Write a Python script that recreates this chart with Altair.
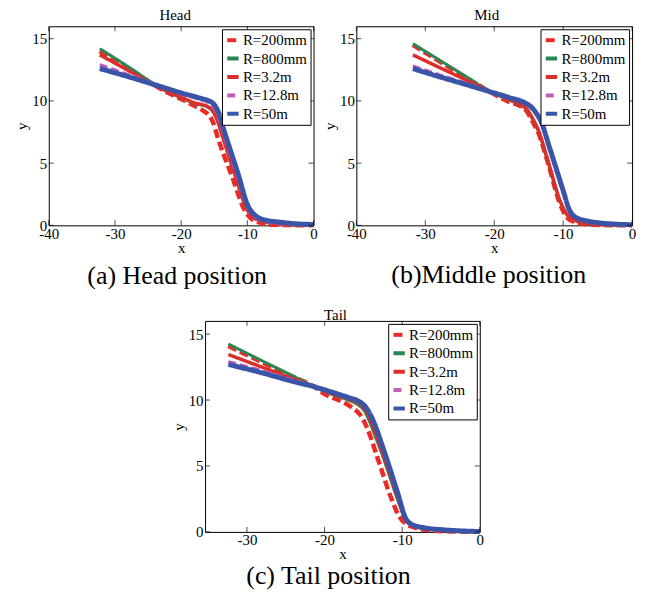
import altair as alt
import pandas as pd

SERIF = "Liberation Serif, Times New Roman, serif"

SERIES = ["R=200mm", "R=800mm", "R=3.2m", "R=12.8m", "R=50m"]
COLORS = ["#ec2a27", "#2a8652", "#dc2e2a", "#c25cb8", "#3a55a7"]
DASHES = [[9, 4], [1, 0], [1, 0], [8, 4], [1, 0]]
WIDTHS = [4.5, 3, 3.5, 3.5, 5]

TITLES = ["Head", "Mid", "Tail"]
CAPTIONS = ["(a) Head position", "(b)Middle position", "(c) Tail position"]
XTICKS_AB = [-40, -30, -20, -10, 0]
XTICKS_C = [-30, -20, -10, 0]
YTICKS = [0, 5, 10, 15]

# ---- Head ----
HEAD_200MM_X = [-32.3, -28, -24, -22, -20, -18, -16.5, -15.8, -15.2, -14.5, -12.3, -10.3, -9.2, -8, -6, 0]
HEAD_200MM_Y = [14.0, 12.6, 11.25, 10.65, 10.15, 9.6, 9.15, 8.85, 8.3, 7.1, 3.9, 1.1, 0.45, 0.2, 0.05, 0.0]
HEAD_800MM_X = [-32.3, -28, -24, -22, -20, -18, -16, -15.3, -14.6, -13.8, -11.8, -10, -9, -7.5, -5, 0]
HEAD_800MM_Y = [14.2, 12.75, 11.35, 10.75, 10.25, 9.8, 9.5, 9.2, 8.5, 7.2, 3.9, 1.2, 0.6, 0.3, 0.1, 0.02]
HEAD_3_2M_X = [-32.3, -28, -24, -22, -20, -18, -16, -15.3, -14.6, -13.8, -11.8, -10, -9, -7.5, -5, 0]
HEAD_3_2M_Y = [13.7, 12.45, 11.25, 10.75, 10.3, 9.85, 9.55, 9.25, 8.55, 7.25, 3.95, 1.25, 0.6, 0.3, 0.1, 0.02]
HEAD_12_8M_X = [-32.3, -28, -24, -20, -17, -15.8, -15.1, -14.4, -13.6, -11.6, -9.9, -8.9, -7.5, -5, 0]
HEAD_12_8M_Y = [12.9, 12.1, 11.35, 10.55, 10.1, 9.85, 9.5, 8.8, 7.4, 4.1, 1.35, 0.7, 0.35, 0.15, 0.04]
HEAD_50M_X = [-32.3, -28, -24, -20, -17, -15.8, -15.0, -14.3, -13.5, -11.5, -9.8, -8.8, -7.5, -5, -2.5, 0]
HEAD_50M_Y = [12.6, 11.95, 11.3, 10.65, 10.2, 10.0, 9.7, 9.0, 7.6, 4.3, 1.45, 0.8, 0.45, 0.25, 0.12, 0.07]

# ---- Mid ----
MID_200MM_X = [-31.8, -28, -24, -20.7, -18, -16, -15.2, -14.5, -13.5, -12.3, -10.3, -9.4, -8.5, -6.5, -4, 0]
MID_200MM_Y = [14.5, 13.2, 11.85, 10.75, 9.95, 9.5, 9.1, 8.4, 7.3, 5.2, 1.5, 0.6, 0.3, 0.08, 0.02, 0.0]
MID_800MM_X = [-31.8, -28, -24, -20.7, -18, -16, -15.2, -14.5, -13.6, -12.3, -10.2, -9.2, -8.3, -6.5, -4, 0]
MID_800MM_Y = [14.6, 13.3, 11.93, 10.8, 10.1, 9.6, 9.25, 8.6, 7.6, 5.3, 1.6, 0.7, 0.4, 0.15, 0.06, 0.02]
MID_3_2M_X = [-31.8, -28, -24, -20.7, -18, -16, -15.2, -14.5, -13.6, -12.3, -10.2, -9.2, -8.3, -6.5, -4, 0]
MID_3_2M_Y = [13.7, 12.7, 11.66, 10.8, 10.15, 9.65, 9.3, 8.65, 7.65, 5.35, 1.65, 0.7, 0.4, 0.15, 0.06, 0.02]
MID_12_8M_X = [-31.8, -28, -24, -20.7, -18, -15.4, -14.6, -14.0, -13.2, -12, -10, -9.1, -8.2, -6.5, -4, 0]
MID_12_8M_Y = [12.8, 12.1, 11.4, 10.8, 10.3, 9.8, 9.45, 9.0, 8.25, 6.2, 2.7, 1.2, 0.6, 0.3, 0.12, 0.04]
MID_50M_X = [-31.8, -28, -24, -20.7, -18, -15.4, -14.6, -14.0, -13.2, -12, -10, -9.1, -8.2, -6.5, -4.8, -2.5, 0]
MID_50M_Y = [12.6, 11.95, 11.3, 10.75, 10.3, 9.8, 9.5, 9.1, 8.35, 6.3, 2.8, 1.25, 0.65, 0.35, 0.2, 0.1, 0.05]

# ---- Tail ----
TAIL_200MM_X = [-32.4, -28, -24, -21.3, -20, -18, -16.4, -15.3, -14.6, -13, -11.5, -10.4, -9.5, -8.5, -6.5, -4, 0]
TAIL_200MM_Y = [14.1, 12.85, 11.75, 11.0, 10.45, 9.95, 9.4, 8.8, 8.0, 5.3, 2.7, 1.2, 0.6, 0.35, 0.12, 0.04, 0.01]
TAIL_800MM_X = [-32.4, -28, -24, -21.3, -19.4, -17, -15.6, -14.9, -14.3, -13.5, -12.6, -10.5, -9.6, -8.7, -7, -4.9, -2.5, 0]
TAIL_800MM_Y = [14.25, 12.96, 11.8, 11.0, 10.5, 10.0, 9.6, 9.2, 8.5, 7.3, 5.9, 2.3, 0.95, 0.5, 0.25, 0.12, 0.05, 0.02]
TAIL_3_2M_X = [-32.4, -28, -24, -21.3, -19.4, -17, -15.6, -14.9, -14.3, -13.5, -12.6, -10.5, -9.6, -8.7, -7, -4.9, -2.5, 0]
TAIL_3_2M_Y = [13.45, 12.48, 11.6, 11.0, 10.55, 10.1, 9.75, 9.4, 8.8, 7.6, 6.1, 2.5, 1.0, 0.5, 0.25, 0.12, 0.05, 0.02]
TAIL_12_8M_X = [-32.4, -28, -24, -21.3, -19.4, -17, -15.6, -14.9, -14.3, -13.5, -12.6, -10.5, -9.6, -8.7, -7, -4.9, -2.5, 0]
TAIL_12_8M_Y = [12.9, 12.2, 11.5, 11.05, 10.7, 10.25, 9.95, 9.65, 9.15, 8.1, 6.6, 2.8, 1.1, 0.55, 0.3, 0.17, 0.08, 0.03]
TAIL_50M_X = [-32.4, -28, -24, -21.3, -19.4, -17, -15.6, -14.9, -14.3, -13.5, -12.6, -10.5, -9.6, -8.7, -7, -4.9, -2.5, 0]
TAIL_50M_Y = [12.7, 12.05, 11.4, 11.0, 10.66, 10.2, 9.9, 9.6, 9.1, 8.1, 6.6, 2.8, 1.1, 0.55, 0.3, 0.17, 0.08, 0.03]

HEAD = [(HEAD_200MM_X, HEAD_200MM_Y), (HEAD_800MM_X, HEAD_800MM_Y), (HEAD_3_2M_X, HEAD_3_2M_Y),
        (HEAD_12_8M_X, HEAD_12_8M_Y), (HEAD_50M_X, HEAD_50M_Y)]
MID = [(MID_200MM_X, MID_200MM_Y), (MID_800MM_X, MID_800MM_Y), (MID_3_2M_X, MID_3_2M_Y),
       (MID_12_8M_X, MID_12_8M_Y), (MID_50M_X, MID_50M_Y)]
TAIL = [(TAIL_200MM_X, TAIL_200MM_Y), (TAIL_800MM_X, TAIL_800MM_Y), (TAIL_3_2M_X, TAIL_3_2M_Y),
        (TAIL_12_8M_X, TAIL_12_8M_Y), (TAIL_50M_X, TAIL_50M_Y)]


def panel(idx, pairs, xdomain, xticks, w, h, title_x, title_y, cap_x, cap_y):
    frames = [pd.DataFrame({"x": xs, "y": ys, "series": s}) for s, (xs, ys) in zip(SERIES, pairs)]
    df = pd.concat(frames, ignore_index=True)
    xscale = alt.Scale(domain=xdomain, nice=False, zero=False)
    yscale = alt.Scale(domain=[0, 16], nice=False)
    xaxis = alt.Axis(values=xticks, title="x", labelFont=SERIF, labelFontSize=15, titleFont=SERIF,
                     titleFontSize=15, titleFontWeight="normal", ticks=False, tickSize=0, domain=False,
                     grid=False, labelPadding=1, titlePadding=-1, labelFlush=False, labelOverlap=False,
                     labelColor="black", titleColor="black", labelExpr="'' + datum.value")
    yaxis = alt.Axis(values=YTICKS, title="y", labelFont=SERIF, labelFontSize=15, titleFont=SERIF,
                     titleFontSize=15, titleFontWeight="normal", ticks=False, tickSize=0, domain=False,
                     grid=False, labelPadding=2, titlePadding=2, labelFlush=False, labelOverlap=False,
                     labelColor="black", titleColor="black", labelExpr="'' + datum.value")
    color = alt.Color("series:N", scale=alt.Scale(domain=SERIES, range=COLORS), title=None)
    dash = alt.StrokeDash("series:N", scale=alt.Scale(domain=SERIES, range=DASHES), title=None)
    layers = []
    for s, sw in zip(SERIES, WIDTHS):
        layers.append(
            alt.Chart(df).transform_filter(alt.datum.series == s)
            .mark_line(strokeWidth=sw, interpolate="monotone")
            .encode(x=alt.X("x:Q", scale=xscale, axis=xaxis),
                    y=alt.Y("y:Q", scale=yscale, axis=yaxis),
                    color=color, strokeDash=dash)
        )
    xt = pd.DataFrame({"x": xticks})
    yt = pd.DataFrame({"y": YTICKS})
    for yv in [h - 2.5, 2.5]:
        layers.append(alt.Chart(xt).mark_tick(color="black", size=5, thickness=1, orient="vertical")
                      .encode(x=alt.X("x:Q", scale=xscale, axis=xaxis), y=alt.value(yv)))
    for xv in [2.5, w - 2.5]:
        layers.append(alt.Chart(yt).mark_tick(color="black", size=5, thickness=1, orient="horizontal")
                      .encode(y=alt.Y("y:Q", scale=yscale, axis=yaxis), x=alt.value(xv)))
    layers.append(
        alt.Chart(pd.DataFrame({"t": [TITLES[idx]]}))
        .mark_text(font=SERIF, fontSize=15, align="center", baseline="alphabetic", color="black")
        .encode(text="t:N", x=alt.value(title_x), y=alt.value(title_y))
    )
    layers.append(
        alt.Chart(pd.DataFrame({"t": [CAPTIONS[idx]]}))
        .mark_text(font=SERIF, fontSize=26, align="center", baseline="alphabetic", color="black")
        .encode(text="t:N", x=alt.value(cap_x), y=alt.value(cap_y))
    )
    return alt.layer(*layers).properties(width=w, height=h)


A = panel(0, HEAD, [-40, 0], XTICKS_AB, 266, 200, 127, -6, 129, 259)
B = panel(1, MID, [-40, 0], XTICKS_AB, 277, 200, 131, -6, 133, 258)
C = panel(2, TAIL, [-35.4, 0], XTICKS_C, 276, 212, 131, -1, 124, 264)

spacer = (alt.Chart(pd.DataFrame({"a": [0]})).mark_point(opacity=0)
          .encode(x=alt.value(0), y=alt.value(0))
          .properties(width=157, height=10, view=alt.ViewBackground(stroke="transparent")))

row1 = alt.hconcat(A, B, spacing=43).properties(bounds="flush").resolve_scale(
    color="independent", strokeDash="independent")
row2 = alt.hconcat(spacer, C, spacing=0).properties(bounds="flush").resolve_scale(
    color="independent", strokeDash="independent")

chart = (
    alt.vconcat(row1, row2, spacing=17)
    .properties(padding={"left": 14, "top": 6, "right": 5, "bottom": 5}, background="white")
    .resolve_scale(color="independent", strokeDash="independent")
    .configure_view(stroke="black", strokeWidth=1)
    .configure_legend(orient="top-right", offset=3, padding=3, rowPadding=2.5, symbolType="stroke",
                      symbolSize=130, symbolStrokeWidth=4, labelFont=SERIF, labelFontSize=15,
                      labelColor="black", strokeColor="black", fillColor="white", cornerRadius=0,
                      labelOffset=2, labelLimit=0)
)

chart.save("out.html", embed_options={"renderer": "svg", "actions": False})
